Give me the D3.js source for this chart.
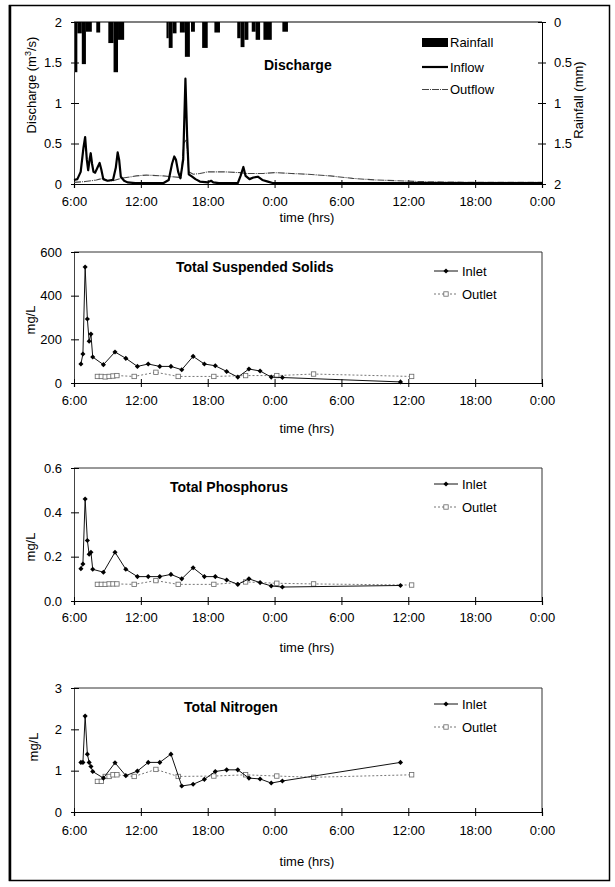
<!DOCTYPE html>
<html><head><meta charset="utf-8">
<script src="https://cdn.jsdelivr.net/npm/d3@7/dist/d3.min.js"></script>
<style>
html,body{margin:0;padding:0;background:#fff;}
text{font-family:"Liberation Sans",Arial,sans-serif;fill:#000;}
</style></head>
<body>
<svg id="c" width="615" height="887"></svg>
<script>
// ---------- DATA ----------
const timeTicks = [0, 6, 12, 18, 24, 30, 36, 42]; // hours after 6:00 day 1
const timeTickLabels = ["6:00","12:00","18:00","0:00","6:00","12:00","18:00","0:00"];

// rainfall (hours after 6:00, mm)
const rainStart = [0.0,0.3,0.7,1.07,2.0,3.08,3.55,3.95,8.3,8.5,8.85,9.5,9.95,10.5,11.5,12.6,14.65,14.95,15.3,15.95,16.3,17.0,18.7];
const rainEnd   = [0.3,0.7,1.07,1.6,2.35,3.55,3.95,4.5,8.5,8.85,9.2,9.95,10.4,10.85,12.0,13.1,14.95,15.3,15.65,16.3,16.7,17.75,19.2];
const rainDepth = [0.62,0.14,0.52,0.12,0.13,0.26,0.62,0.22,0.2,0.32,0.14,0.13,0.43,0.12,0.32,0.13,0.2,0.31,0.22,0.12,0.22,0.22,0.12];

// inflow discharge (m3/s)
const inflowTime = [0,0.3,0.6,0.85,1.0,1.15,1.27,1.4,1.5,1.62,1.75,1.9,2.1,2.3,2.45,2.63,3.0,3.5,3.75,3.92,4.05,4.2,4.5,4.8,5.5,8.0,8.5,8.8,9.0,9.15,9.35,9.55,9.8,10.0,10.15,10.3,10.6,10.9,11.3,12.0,12.3,12.5,13.0,14.7,14.95,15.2,15.4,15.75,16.1,16.5,16.9,17.4,17.9,18.5,42];
const inflowQ    = [0.05,0.06,0.15,0.45,0.58,0.3,0.17,0.3,0.38,0.25,0.15,0.14,0.2,0.26,0.18,0.06,0.04,0.05,0.2,0.39,0.3,0.09,0.04,0.02,0.01,0.01,0.05,0.25,0.34,0.3,0.15,0.07,0.3,1.3,0.6,0.12,0.09,0.06,0.03,0.02,0.04,0.02,0.01,0.01,0.1,0.21,0.1,0.06,0.08,0.09,0.05,0.03,0.01,0.01,0.01];

// outflow discharge (m3/s)
const outflowTime = [0,1.0,2.0,2.6,3.0,3.5,4.2,4.7,5.6,6.5,8.0,8.7,9.6,9.85,10.1,10.3,10.7,11.3,12.0,13.5,14.9,15.5,17.0,18.0,19.5,21.0,23.0,25.0,27.0,29.0,31.0,36.0,42];
const outflowQ    = [0.02,0.03,0.05,0.07,0.04,0.04,0.07,0.08,0.1,0.11,0.1,0.09,0.08,0.5,0.55,0.15,0.12,0.13,0.15,0.15,0.14,0.13,0.13,0.14,0.13,0.12,0.1,0.07,0.05,0.04,0.03,0.02,0.02];

// water quality samples
const inletTime  = [0.62,0.8,1.0,1.2,1.36,1.52,1.68,2.64,3.68,4.65,5.69,6.66,7.7,8.7,9.67,10.69,11.7,12.68,13.7,14.7,15.7,16.7,17.7,18.7,29.3];
const tssInlet   = [87,133,531,293,191,224,119,84,142,113,76,87,76,76,61,122,87,79,53,27,64,55,27,25,5];
const tpInlet    = [0.146,0.167,0.46,0.273,0.211,0.22,0.143,0.13,0.22,0.143,0.11,0.11,0.11,0.12,0.10,0.15,0.11,0.11,0.095,0.075,0.10,0.083,0.068,0.063,0.07];
const tnInlet    = [1.2,1.2,2.32,1.4,1.2,1.1,0.98,0.82,1.19,0.88,0.99,1.2,1.2,1.4,0.63,0.67,0.79,0.98,1.02,1.02,0.82,0.8,0.7,0.75,1.2];

const outletTime = [2.1,2.45,2.8,3.15,3.5,3.85,5.4,7.35,9.35,12.55,15.4,18.2,21.5,30.3];
const tssOutlet  = [30,30,28,30,32,34,30,49,30,30,34,34,41,30];
const tpOutlet   = [0.075,0.075,0.075,0.077,0.077,0.077,0.075,0.092,0.075,0.075,0.086,0.08,0.077,0.072];
const tnOutlet   = [0.74,0.74,0.86,0.86,0.9,0.9,0.86,1.03,0.86,0.87,0.9,0.87,0.84,0.9];

const dischargeTicks = [0,0.5,1,1.5,2];
const rainTicks = [0,0.5,1,1.5,2];
const tssTicks = [0,200,400,600];
const tpTicks = [0,0.2,0.4,0.6];
const tnTicks = [0,1,2,3];

// ---------- DRAW ----------
const svg = d3.select("#c");
const L = 74, R = 542;
const x = d3.scaleLinear().domain([0, 42]).range([L, R]);

// outer frame
svg.append("rect").attr("x",9.5).attr("y",5.5).attr("width",600).attr("height",875)
  .attr("fill","none").attr("stroke","#000").attr("stroke-width",1.5);
svg.append("line").attr("x1",10).attr("x2",10).attr("y1",5).attr("y2",881)
  .attr("stroke","#000").attr("stroke-width",2.5);

function xAxis(g, y0, pad){
  const ax = d3.axisBottom(x).tickValues(timeTicks)
    .tickFormat((d,i)=>timeTickLabels[i]).tickSize(4).tickPadding(pad);
  const a = g.append("g").attr("transform",`translate(0,${y0})`).call(ax);
  a.select(".domain").attr("stroke","#000").attr("stroke-width",1.2);
  a.selectAll(".tick line").attr("y1",-4).attr("stroke","#000");
  a.selectAll("text").attr("font-size",13).attr("font-family","Liberation Sans, Arial, sans-serif");
  return a;
}
function yAxisLeft(g, y, ticks, fmt){
  const ax = d3.axisLeft(y).tickValues(ticks).tickFormat(fmt).tickSize(3).tickPadding(9);
  const a = g.append("g").attr("transform",`translate(${L},0)`).call(ax);
  a.select(".domain").attr("stroke","#444").attr("stroke-width",1);
  a.selectAll(".tick line").attr("x1",5).attr("stroke","#000");
  a.selectAll("text").attr("font-size",13).attr("font-family","Liberation Sans, Arial, sans-serif");
  return a;
}
function frame(g, yTop, yBot){
  g.append("line").attr("x1",L).attr("x2",R).attr("y1",yTop).attr("y2",yTop)
    .attr("stroke","#333").attr("stroke-width",1);
  g.append("line").attr("x1",R).attr("x2",R).attr("y1",yTop).attr("y2",yBot)
    .attr("stroke","#333").attr("stroke-width",1);
}
function rotLabel(g, xx, yy, txt){
  return g.append("text").attr("transform",`translate(${xx},${yy}) rotate(-90)`)
    .attr("text-anchor","middle").attr("font-size",13).text(txt);
}
function timeLabel(g, yy){
  g.append("text").attr("x",307).attr("y",yy).attr("text-anchor","middle")
    .attr("font-size",13).text("time (hrs)");
}
function title(g, xx, yy, txt){
  g.append("text").attr("x",xx).attr("y",yy).attr("font-size",14)
    .attr("font-weight","bold").text(txt);
}

// ===== Discharge chart =====
{
  const g = svg.append("g");
  const top = 22, bot = 184;
  const yQ = d3.scaleLinear().domain([0,2]).range([bot, top]);
  const yR = d3.scaleLinear().domain([0,2]).range([top, bot]);

  // rainfall bars
  g.append("g").selectAll("rect").data(rainStart).join("rect")
    .attr("x",(d,i)=>x(d)).attr("width",(d,i)=>x(rainEnd[i])-x(d))
    .attr("y",yR(0)).attr("height",(d,i)=>yR(rainDepth[i])-yR(0))
    .attr("fill","#000");

  // top line
  g.append("line").attr("x1",L).attr("x2",R).attr("y1",top).attr("y2",top)
    .attr("stroke","#000").attr("stroke-width",1.2);

  // right axis
  const ar = d3.axisRight(yR).tickValues(rainTicks).tickFormat(d3.format("")).tickSize(4).tickPadding(8);
  const a = g.append("g").attr("transform",`translate(${R},0)`).call(ar);
  a.select(".domain").attr("stroke","#000");
  a.selectAll(".tick line").attr("x1",-4).attr("stroke","#000");
  a.selectAll("text").attr("font-size",13);

  yAxisLeft(g, yQ, dischargeTicks, d3.format(""));
  xAxis(g, bot, 9);

  const line = d3.line().x((d,i)=>x(d[0])).y(d=>yQ(d[1]));
  g.append("path").attr("d", line(outflowTime.map((t,i)=>[t,outflowQ[i]])))
    .attr("fill","none").attr("stroke","#444").attr("stroke-width",1.1)
    .attr("stroke-dasharray","7,1,1,1");
  g.append("path").attr("d", line(inflowTime.map((t,i)=>[t,inflowQ[i]])))
    .attr("fill","none").attr("stroke","#000").attr("stroke-width",2.2).attr("stroke-linejoin","round");

  // labels
  const lab = g.append("text").attr("transform","translate(36,85) rotate(-90)")
    .attr("text-anchor","middle").attr("font-size",13);
  lab.append("tspan").text("Discharge (m");
  lab.append("tspan").attr("dy",-5).attr("font-size",9).text("3");
  lab.append("tspan").attr("dy",5).text("/s)");
  rotLabel(g, 583, 100, "Rainfall (mm)");
  timeLabel(g, 222);
  title(g, 264, 70, "Discharge");

  // legend
  g.append("rect").attr("x",422).attr("y",38).attr("width",26).attr("height",9).attr("fill","#000");
  g.append("text").attr("x",450).attr("y",47).attr("font-size",13).text("Rainfall");
  g.append("line").attr("x1",422).attr("x2",448).attr("y1",67).attr("y2",67)
    .attr("stroke","#000").attr("stroke-width",2.2);
  g.append("text").attr("x",450).attr("y",71.5).attr("font-size",13).text("Inflow");
  g.append("line").attr("x1",422).attr("x2",448).attr("y1",89.5).attr("y2",89.5)
    .attr("stroke","#444").attr("stroke-width",1.1).attr("stroke-dasharray","7,1,1,1");
  g.append("text").attr("x",450).attr("y",94).attr("font-size",13).text("Outflow");
}

// ===== water quality charts =====
const sym = d3.symbol().type(d3.symbolSquare).size(13);
function wqChart(opt){
  const g = svg.append("g");
  const y = d3.scaleLinear().domain(opt.domain).range([opt.bot, opt.top]);
  frame(g, opt.top, opt.bot);
  yAxisLeft(g, y, opt.ticks, opt.fmt);
  xAxis(g, opt.bot, opt.pad);

  const line = d3.line().x(d=>x(d[0])).y(d=>y(d[1]));
  const outPts = outletTime.map((t,i)=>[t,opt.outlet[i]]);
  const inPts = inletTime.map((t,i)=>[t,opt.inlet[i]]);
  g.append("path").attr("d",line(outPts)).attr("fill","none")
    .attr("stroke","#777").attr("stroke-width",1).attr("stroke-dasharray","2,2");
  g.append("g").selectAll("rect").data(outPts).join("rect")
    .attr("x",d=>x(d[0])-2.2).attr("y",d=>y(d[1])-2.2).attr("width",4.4).attr("height",4.4)
    .attr("fill","#fff").attr("stroke","#666").attr("stroke-width",0.8);
  g.append("path").attr("d",line(inPts)).attr("fill","none")
    .attr("stroke","#111").attr("stroke-width",1);
  g.append("g").selectAll("path").data(inPts).join("path")
    .attr("d",sym).attr("transform",d=>`translate(${x(d[0])},${y(d[1])}) rotate(45)`).attr("fill","#000");

  rotLabel(g, opt.labX, opt.labY, "mg/L");
  timeLabel(g, opt.timeY);
  title(g, opt.titleX, opt.titleY, opt.title);

  // legend
  const ly1 = opt.legY, ly2 = opt.legY + 23;
  g.append("line").attr("x1",434).attr("x2",458).attr("y1",ly1).attr("y2",ly1)
    .attr("stroke","#111").attr("stroke-width",1);
  g.append("path").attr("d",sym).attr("transform",`translate(446,${ly1}) rotate(45)`).attr("fill","#000");
  g.append("text").attr("x",462).attr("y",ly1+4.5).attr("font-size",13).text("Inlet");
  g.append("line").attr("x1",434).attr("x2",458).attr("y1",ly2).attr("y2",ly2)
    .attr("stroke","#777").attr("stroke-width",1).attr("stroke-dasharray","2,2");
  g.append("rect").attr("x",443.8).attr("y",ly2-2.2).attr("width",4.4).attr("height",4.4)
    .attr("fill","#fff").attr("stroke","#666").attr("stroke-width",0.8);
  g.append("text").attr("x",462).attr("y",ly2+4.5).attr("font-size",13).text("Outlet");
}

wqChart({domain:[0,600], top:252, bot:383, ticks:tssTicks, fmt:d3.format("d"),
  inlet:tssInlet, outlet:tssOutlet, pad:9, labX:35, labY:320, timeY:433,
  title:"Total Suspended Solids", titleX:176, titleY:272, legY:271});
wqChart({domain:[0,0.6], top:468, bot:601, ticks:tpTicks, fmt:d3.format(".1f"),
  inlet:tpInlet, outlet:tpOutlet, pad:8, labX:35, labY:547, timeY:652,
  title:"Total Phosphorus", titleX:170, titleY:492, legY:484});
wqChart({domain:[0,3], top:688, bot:812, ticks:tnTicks, fmt:d3.format("d"),
  inlet:tnInlet, outlet:tnOutlet, pad:10, labX:38, labY:747, timeY:866,
  title:"Total Nitrogen", titleX:184, titleY:712, legY:704});
</script>
</body></html>
